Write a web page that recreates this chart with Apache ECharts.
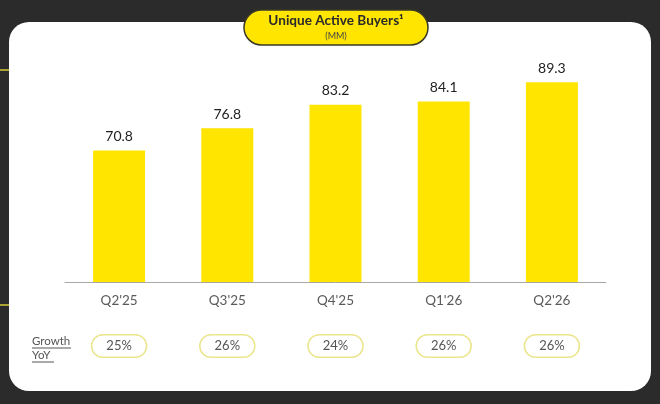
<!DOCTYPE html>
<html>
<head>
<meta charset="utf-8">
<script src="https://cdn.jsdelivr.net/npm/echarts@6/dist/echarts.min.js"></script>
<style>html,body{margin:0;padding:0;background:#2b2b2b;}#c{width:660px;height:404px;}</style>
</head>
<body>
<div id="c"></div>
<script>
const categories = ["Q2'25", "Q3'25", "Q4'25", "Q1'26", "Q2'26"];
const buyers = [70.8, 76.8, 83.2, 84.1, 89.3];
const growthYoY = ['25%', '26%', '24%', '26%', '26%'];
const titleText = 'Unique Active Buyers¹';
const subtitleText = '(MM)';

const FONT = 'Lato, "Open Sans", sans-serif';
const chart = echarts.init(document.getElementById('c'));
chart.setOption({
  backgroundColor: '#2b2b2b',
  animation: false,
  graphic: [
    { type: 'rect', z: -10, shape: { x: 9, y: 22, width: 642, height: 369, r: 20 }, style: { fill: '#ffffff' } },
    { type: 'line', z: 1, shape: { x1: 0, y1: 70, x2: 9, y2: 70 }, style: { stroke: '#d8cc3a', lineWidth: 1.5 } },
    { type: 'line', z: 1, shape: { x1: 0, y1: 305, x2: 9, y2: 305 }, style: { stroke: '#d8cc3a', lineWidth: 1.5 } },
    { type: 'rect', z: 100, shape: { x: 244, y: 10, width: 184, height: 35, r: 17.5 }, style: { fill: '#FFE500', stroke: '#3a3826', lineWidth: 1.5 } },
    { type: 'text', z: 101, style: { x: 336, y: 21, text: titleText, fill: '#2a2a2a', font: 'bold 13.6px ' + FONT, textAlign: 'center', textVerticalAlign: 'middle' } },
    { type: 'text', z: 101, style: { x: 336, y: 36, text: subtitleText, fill: '#444', font: '9px ' + FONT, textAlign: 'center', textVerticalAlign: 'middle' } },
    { type: 'text', z: 5, style: { x: 32, y: 341, text: 'Growth', fill: '#555', font: '11.5px ' + FONT, textAlign: 'left', textVerticalAlign: 'middle' } },
    { type: 'line', z: 5, shape: { x1: 32, y1: 348, x2: 71, y2: 348 }, style: { stroke: '#555', lineWidth: 1 } },
    { type: 'text', z: 5, style: { x: 32, y: 355, text: 'YoY', fill: '#555', font: '11.5px ' + FONT, textAlign: 'left', textVerticalAlign: 'middle' } },
    { type: 'line', z: 5, shape: { x1: 32, y1: 362, x2: 54, y2: 362 }, style: { stroke: '#555', lineWidth: 1 } }
  ],
  grid: { left: 65, right: 54, top: 61.4, bottom: 122 },
  xAxis: [
    {
      type: 'category', data: categories,
      axisLine: { show: true, lineStyle: { color: '#a8a8a8', width: 1 } },
      axisTick: { show: false },
      axisLabel: { color: '#5a5a5a', fontSize: 13.5, fontFamily: FONT, margin: 12 }
    },
    {
      type: 'category', data: growthYoY, position: 'bottom',
      axisLine: { show: false }, axisTick: { show: false },
      axisLabel: {
        margin: 56,
        formatter: v => '{p|' + v + '}',
        rich: {
          p: {
            color: '#555', fontSize: 13, fontFamily: FONT, lineHeight: 16,
            padding: [4, 14, 4, 14], borderColor: '#ebe58c', borderWidth: 1.5, borderRadius: 12,
            backgroundColor: '#fff'
          }
        }
      }
    }
  ],
  yAxis: { type: 'value', min: 35, max: 95, show: false, splitLine: { show: false } },
  series: [{
    type: 'bar', data: buyers, barWidth: 52, xAxisIndex: 0,
    itemStyle: { color: '#FFE500' },
    label: { show: true, position: 'top', distance: 7, color: '#222', fontSize: 14, fontFamily: FONT, formatter: p => p.value.toFixed(1) }
  }]
});
</script>
</body>
</html>
